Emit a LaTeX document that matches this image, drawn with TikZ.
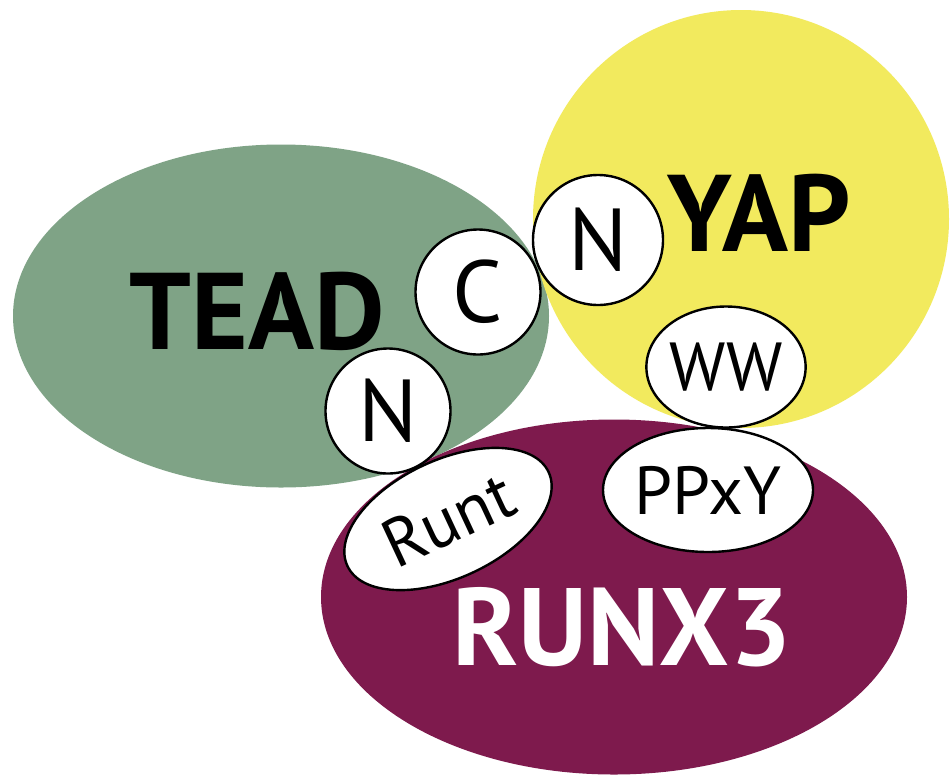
\documentclass[tikz,border=0pt]{standalone}
\usepackage{fontspec}
\setmainfont{PT Sans}
\usetikzlibrary{shapes.geometric}
\definecolor{teadgreen}{HTML}{7FA386}
\definecolor{yapyellow}{HTML}{F2EA5E}
\definecolor{runxred}{HTML}{7E1A4D}
\begin{document}
\begin{tikzpicture}[x=1pt,y=-1pt,
  blob/.style={ellipse, inner sep=0pt, draw=none},
  dombox/.style={ellipse, draw=black, line width=2.4pt, fill=white, inner sep=0pt},
  ball/.style={circle, draw=black, line width=2.4pt, fill=white, inner sep=0pt, minimum size=125pt},
  bigtext/.style={font=\fontsize{109}{109}\selectfont\bfseries, inner sep=0pt},
  midtext/.style={font=\fontsize{88}{88}\selectfont},
  smalltext/.style={font=\fontsize{68}{68}\selectfont}]
\useasboundingbox (0,0) rectangle (950,777);
\fill[white] (0,0) rectangle (950,777);

% the three proteins
\node[blob, fill=teadgreen, minimum width=536pt, minimum height=343pt] (tead) at (281,316) {};
\node[blob, fill=yapyellow, minimum width=416pt, minimum height=418pt] (yap) at (741,219) {};
\node[blob, fill=runxred, minimum width=586pt, minimum height=355pt] (runx) at (614,597) {};

\node[bigtext] (teadlbl) at (257,311) {TEAD};
\node[bigtext] (yaplbl) at (759,213) {YAP};
\node[bigtext, text=white, font=\fontsize{110}{110}\selectfont\bfseries] (runxlbl) at (622,627) {RUNX3};

% interacting domains
\node[ball, midtext] (teadn) at (388,411) {N};
\node[dombox, smalltext, minimum width=222pt, minimum height=118pt, rotate=25] (runt) at (448,519) {Runt};
\node[ball, midtext] (teadc) at (478,292) {C};
\node[ball, midtext, minimum size=130pt] (yapn) at (598,240) {N};
\node[dombox, smalltext, minimum width=156pt, minimum height=121pt] (ww) at (726,367) {WW};
\node[dombox, smalltext, minimum width=210pt, minimum height=124pt] (ppxy) at (708,490) {PPxY};
\end{tikzpicture}
\end{document}
